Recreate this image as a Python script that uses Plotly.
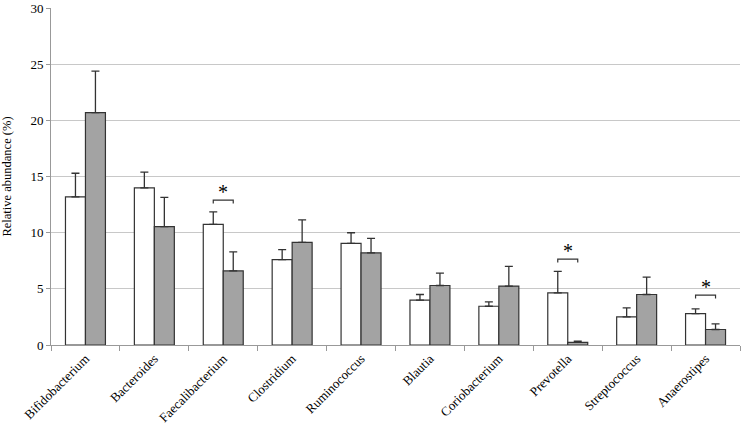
import plotly.graph_objects as go

genera = ["Bifidobacterium", "Bacteroides", "Faecalibacterium", "Clostridium", "Ruminococcus",
          "Blautia", "Coriobacterium", "Prevotella", "Streptococcus", "Anaerostipes"]

group_a = [13.2, 14.0, 10.75, 7.6, 9.05, 4.0, 3.45, 4.65, 2.5, 2.8]
group_a_err = [2.1, 1.4, 1.1, 0.9, 0.95, 0.5, 0.4, 1.9, 0.8, 0.42]

group_b = [20.7, 10.55, 6.6, 9.15, 8.2, 5.3, 5.25, 0.24, 4.5, 1.38]
group_b_err = [3.7, 2.6, 1.7, 2.0, 1.3, 1.1, 1.75, 0.1, 1.55, 0.5]

# significant pairs: category index, bracket height
sig_idx = [2, 7, 9]
sig_y = [12.9, 7.65, 4.45]

font_family = "Liberation Serif, Times New Roman, serif"

fig = go.Figure()
fig.add_trace(go.Bar(
    x=genera, y=group_a, name="A",
    marker=dict(color="white", line=dict(color="#333333", width=1.2)),
    error_y=dict(type="data", array=group_a_err, arrayminus=[0] * len(group_a_err), symmetric=False,
                 color="#333333", thickness=1.3, width=4),
))
fig.add_trace(go.Bar(
    x=genera, y=group_b, name="B",
    marker=dict(color="#a3a3a3", line=dict(color="#333333", width=1.2)),
    error_y=dict(type="data", array=group_b_err, arrayminus=[0] * len(group_b_err), symmetric=False,
                 color="#333333", thickness=1.3, width=4),
))

# significance brackets and asterisks
off = 0.145
for i, h in zip(sig_idx, sig_y):
    fig.add_shape(type="path", xref="x", yref="y",
                  path=f"M {i - off},{h - 0.3} L {i - off},{h} L {i + off},{h} L {i + off},{h - 0.3}",
                  line=dict(color="#333333", width=1.2))
    fig.add_annotation(x=i, y=h, text="*", showarrow=False, yanchor="bottom", yshift=-5,
                       font=dict(family=font_family, size=20, color="black"))

fig.update_layout(
    width=741, height=426,
    margin=dict(l=51, r=1, t=6, b=80),
    paper_bgcolor="white", plot_bgcolor="white",
    barmode="group", bargap=0.42, bargroupgap=0,
    showlegend=False,
    font=dict(family=font_family, color="black"),
)
fig.update_xaxes(
    type="category", tickson="boundaries", ticks="outside", ticklen=5, tickcolor="#999999",
    showline=True, linecolor="#999999", linewidth=1,
    tickangle=-45, tickfont=dict(family=font_family, size=13, color="black"),
)
fig.update_yaxes(
    range=[0, 30.02], tickvals=[0, 5, 10, 15, 20, 25, 30], showgrid=True, gridcolor="#c8c8c8", gridwidth=1,
    showline=True, linecolor="#999999", linewidth=1, ticks="outside", ticklen=4, tickcolor="#999999",
    tickfont=dict(family=font_family, size=13, color="black"), ticklabeloverflow="allow",
    title=dict(text="Relative abundance (%)", font=dict(family=font_family, size=12.5, color="black"), standoff=16),
    zeroline=False,
)

# drop the default page margin so the figure sits at the window corner
fig.write_html("out.html", config={"displayModeBar": False},
               post_script="document.body.style.margin='0';")
